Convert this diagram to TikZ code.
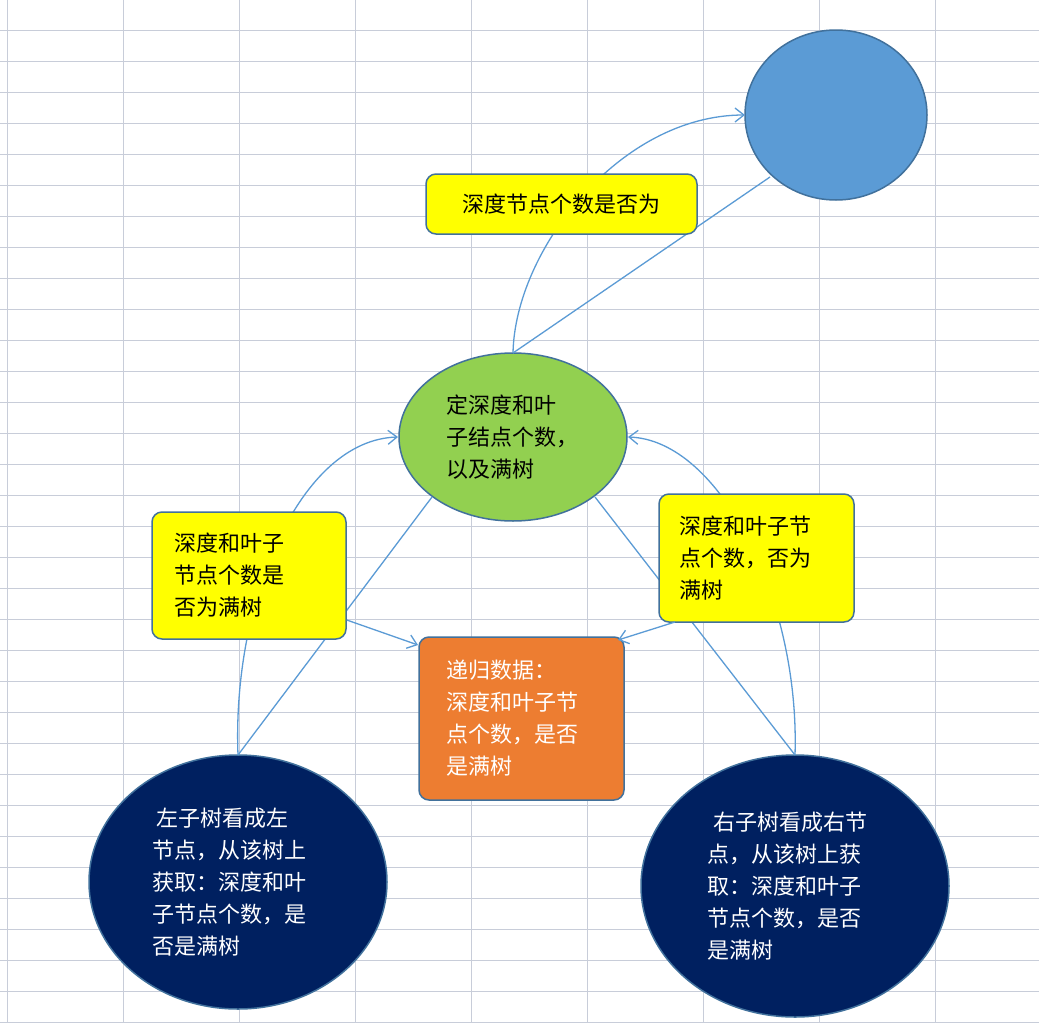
\documentclass[tikz,border=0pt]{standalone}
\usepackage{fontspec}
\setmainfont{Noto Sans CJK SC}
\usetikzlibrary{shapes.geometric,arrows.meta}
\definecolor{gridc}{HTML}{C8CDD9}
\definecolor{lineb}{HTML}{5B9BD5}
\definecolor{edgeb}{HTML}{41719C}
\definecolor{ylw}{HTML}{FFFF00}
\definecolor{grn}{HTML}{92D050}
\definecolor{org}{HTML}{ED7D31}
\definecolor{navy}{HTML}{002060}
\tikzset{
  ybox/.style={draw=edgeb,line width=1.5pt,fill=ylw,rounded corners=10pt,align=left,inner sep=0pt,font=\fontsize{22}{32}\selectfont},
  ell/.style={ellipse,draw=edgeb,line width=1.5pt,inner sep=0pt,align=left,font=\fontsize{22}{32}\selectfont},
  conn/.style={draw=lineb,line width=1.3pt},
  arr/.style={conn,-{Straight Barb[length=9pt,width=14pt]}}
}
\begin{document}
\begin{tikzpicture}[x=1pt,y=-1pt]
\useasboundingbox (0,0) rectangle (1039,1023);
\fill[white] (0,0) rectangle (1039,1023);
\foreach \i in {0,...,8} \draw[gridc,line width=1pt] (7+116*\i,0) -- (7+116*\i,1023);
\foreach \j in {0,...,32} \draw[gridc,line width=1pt] (0,30+31*\j) -- (1039,30+31*\j);

\node[ell,fill=lineb,minimum width=182pt,minimum height=170pt] (top) at (836,115) {};
\node[ell,fill=grn,minimum width=228pt,minimum height=168pt,text width=150pt] (mid) at (513,437) {\hspace*{8pt}定深度和叶\\\hspace*{8pt}子结点个数，\\\hspace*{8pt}以及满树};
\node[ell,fill=navy,text=white,minimum width=298pt,minimum height=254pt,text width=172pt] (ln) at (238,882) {\hspace*{4pt}左子树看成左\\节点，从该树上\\获取：深度和叶\\子节点个数，是\\否是满树};
\node[ell,fill=navy,text=white,minimum width=308pt,minimum height=262pt,text width=176pt] (rn) at (795,886) {\hspace*{6pt}右子树看成右节\\点，从该树上获\\取：深度和叶子\\节点个数，是否\\是满树};

% connectors (drawn before boxes)
\coordinate (mt) at (513,353);
\coordinate (lt) at (238,755);
\coordinate (rt) at (795,755);
\draw[arr] (mt) .. controls (515,250) and (620,115) .. (745,115);
\draw[conn] (mt) -- (770,177);
\draw[arr] (lt) .. controls (232,600) and (300,440) .. (398,437);
\draw[conn] (lt) -- (432,497);
\draw[arr] (rt) .. controls (800,600) and (720,440) .. (628,437);
\draw[conn] (rt) -- (595,497);

\node[ybox,minimum width=271pt,minimum height=60pt] (b1) at (561.5,204) {深度节点个数是否为};
\node[ybox,minimum width=194pt,minimum height=127pt,text width=150pt] (bl) at (249,575.5) {深度和叶子\\节点个数是\\否为满树};
\node[ybox,minimum width=195pt,minimum height=128pt,text width=154pt] (br) at (756.5,558) {深度和叶子节\\点个数，否为\\满树};
\node[ybox,fill=org,text=white,minimum width=205pt,minimum height=163pt,text width=150pt] (ob) at (521.5,718.5) {递归数据：\\深度和叶子节\\点个数，是否\\是满树};

\draw[arr] (bl.east |- 0,620) -- (418,645);
\draw[arr] (675,622) -- (618,640);
\end{tikzpicture}
\end{document}
